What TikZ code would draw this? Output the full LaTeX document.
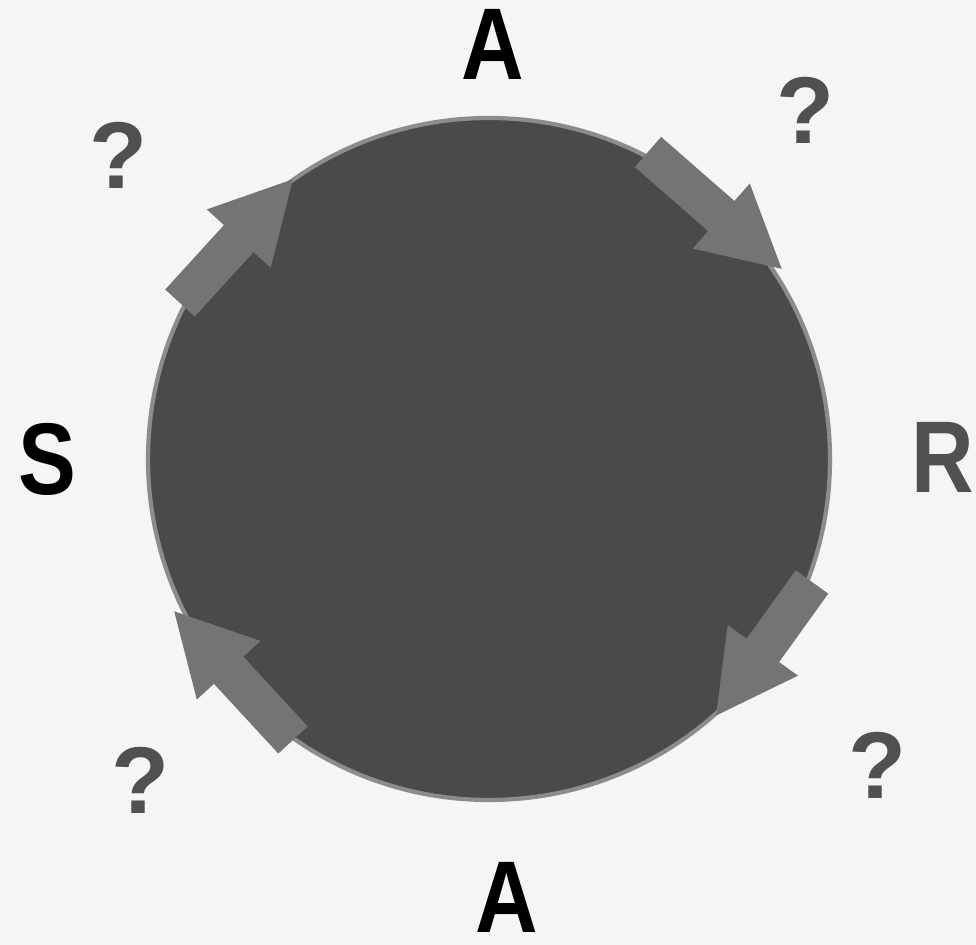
\documentclass[tikz,border=0pt]{standalone}
\usepackage{fontspec}
\setmainfont{Liberation Sans}
\usetikzlibrary{arrows.meta, positioning}
\definecolor{cyclefill}{HTML}{4A4A4A}
\definecolor{cycleedge}{HTML}{8C8C8C}
\definecolor{flowgray}{HTML}{747474}
\definecolor{markgray}{HTML}{505050}
\definecolor{papergray}{HTML}{F5F5F5}

\begin{document}
\begin{tikzpicture}[
  every node/.style={inner sep=0pt},
  bigletter/.style={font=\fontsize{29}{29}\selectfont\bfseries, text=black, xscale=0.85},
  qmark/.style={font=\fontsize{27}{27}\selectfont\bfseries, text=markgray},
  flowarrow/.style={draw=flowgray, line width=0.40cm, -{Triangle[width=0.80cm, length=0.82cm]}},
]

% Paper
\fill[papergray] (0,0) rectangle (9.76,9.45);
\useasboundingbox (0,0) rectangle (9.76,9.45);

% Central disc
\node[circle, minimum size=6.82cm, fill=cyclefill, draw=cycleedge, line width=1.2pt] (disc) at (4.89,4.86) {};

% Labels round the disc
\node[bigletter] (atop) at (4.93,9.01) {A};
\node[bigletter] (abot) at (5.07,0.48) {A};
\node[bigletter] (sleft) at (0.47,4.86) {S};
\node[bigletter, text=markgray] (rright) at (9.43,4.88) {R};

\node[qmark] (q1) at (1.18,7.90) {?};
\node[qmark] (q2) at (8.05,8.35) {?};
\node[qmark] (q3) at (1.40,1.65) {?};
\node[qmark] (q4) at (8.77,1.80) {?};

% Arrows on the rim, clockwise
\coordinate (ultail) at (1.80,6.42);
\coordinate (ultip) at (2.94,7.67);
\coordinate (urtail) at (6.48,7.93);
\coordinate (urtip) at (7.83,6.75);
\coordinate (lrtail) at (8.12,3.63);
\coordinate (lrtip) at (7.15,2.28);
\coordinate (lltail) at (2.93,2.05);
\coordinate (lltip) at (1.73,3.35);

\draw[flowarrow] (ultail) -- (ultip);
\draw[flowarrow] (urtail) -- (urtip);
\draw[flowarrow] (lrtail) -- (lrtip);
\draw[flowarrow] (lltail) -- (lltip);

\end{tikzpicture}
\end{document}
